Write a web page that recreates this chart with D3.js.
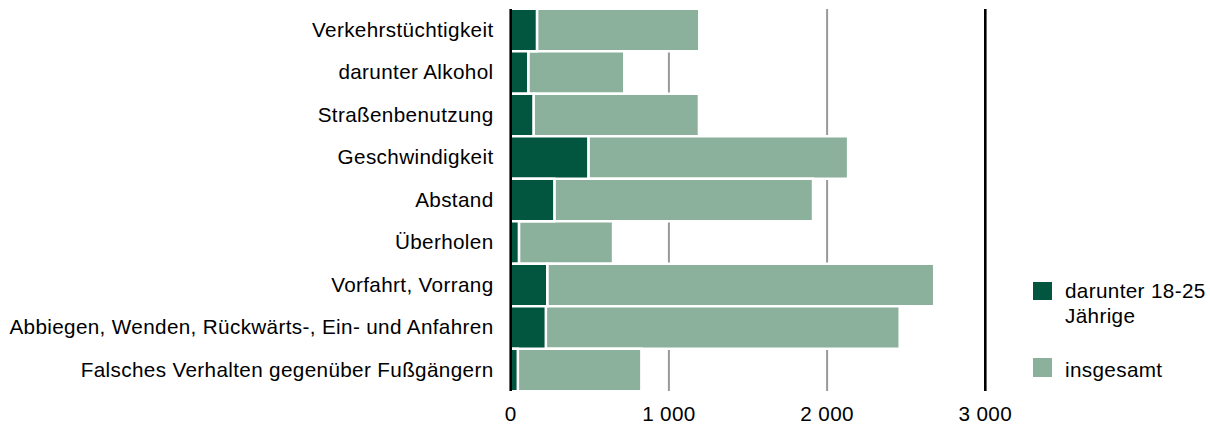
<!DOCTYPE html>
<html><head><meta charset="utf-8">
<script src="https://cdn.jsdelivr.net/npm/d3@7"></script>
<style>
html,body{margin:0;padding:0;background:#fff;}
text{font-family:"Liberation Sans",Arial,sans-serif;font-size:20.7px;letter-spacing:0.35px;fill:#000;}
</style></head>
<body><svg id="chart" width="1210" height="430"></svg>
<script>
const categories = ["Verkehrstüchtigkeit","darunter Alkohol","Straßenbenutzung","Geschwindigkeit","Abstand","Überholen","Vorfahrt, Vorrang","Abbiegen, Wenden, Rückwärts-, Ein- und Anfahren","Falsches Verhalten gegenüber Fußgängern"];
const youngValues = [166, 111, 144, 491, 276, 52, 231, 222, 45];
const totalValues = [1192, 718, 1190, 2133, 1911, 647, 2677, 2459, 826];
const tickValues = [0, 1000, 2000, 3000];
const tickLabels = ["0", "1 000", "2 000", "3 000"];
const seriesNames = ["darunter 18-25 Jährige", "insgesamt"];
const colors = ["#02553F", "#8BB09B"];

const svg = d3.select("#chart");
const x = d3.scaleLinear().domain([0, 3000]).range([510.7, 985.3]);
const y = d3.scaleBand().domain(categories).range([8.75, 391.25]).paddingInner(0);

// gridlines
svg.append("g").selectAll("line").data(tickValues.slice(1)).join("line")
  .attr("x1", d => x(d)).attr("x2", d => x(d))
  .attr("y1", 9).attr("y2", 391)
  .attr("stroke", d => d === 3000 ? "#000" : "#999")
  .attr("stroke-width", d => d === 3000 ? 2.6 : 2);

const rows = categories.map((c, i) => ({c, young: youngValues[i], total: totalValues[i]}));

// insgesamt (rest)
svg.append("g").selectAll("rect").data(rows).join("rect")
  .attr("x", d => x(d.young)).attr("width", d => x(d.total) - x(d.young))
  .attr("y", d => y(d.c)).attr("height", y.bandwidth())
  .attr("fill", colors[1]).attr("stroke", "#fff").attr("stroke-width", 2.5);

// darunter 18-25
svg.append("g").selectAll("rect").data(rows).join("rect")
  .attr("x", x(0)).attr("width", d => x(d.young) - x(0))
  .attr("y", d => y(d.c)).attr("height", y.bandwidth())
  .attr("fill", colors[0]).attr("stroke", "#fff").attr("stroke-width", 2.5);

// zero axis line
svg.append("line").attr("x1", x(0)).attr("x2", x(0)).attr("y1", 9).attr("y2", 391)
  .attr("stroke", "#000").attr("stroke-width", 2.6);

// category labels
svg.append("g").selectAll("text").data(categories).join("text")
  .attr("x", 493.5).attr("y", d => y(d) + y.bandwidth() / 2).attr("dy", "0.32em")
  .attr("text-anchor", "end").text(d => d);

// x tick labels
svg.append("g").selectAll("text").data(tickValues).join("text")
  .attr("x", d => x(d)).attr("y", 420.7).attr("text-anchor", "middle")
  .text((d, i) => tickLabels[i]);

// legend
const lg = svg.append("g");
lg.append("rect").attr("x", 1033).attr("y", 282).attr("width", 19).attr("height", 18).attr("fill", colors[0]);
lg.append("text").attr("x", 1065).attr("y", 298.3).text("darunter 18-25");
lg.append("text").attr("x", 1065).attr("y", 323.3).text("Jährige");
lg.append("rect").attr("x", 1033).attr("y", 358).attr("width", 19).attr("height", 19).attr("fill", colors[1]);
lg.append("text").attr("x", 1065).attr("y", 377).text(seriesNames[1]);
</script></body></html>
